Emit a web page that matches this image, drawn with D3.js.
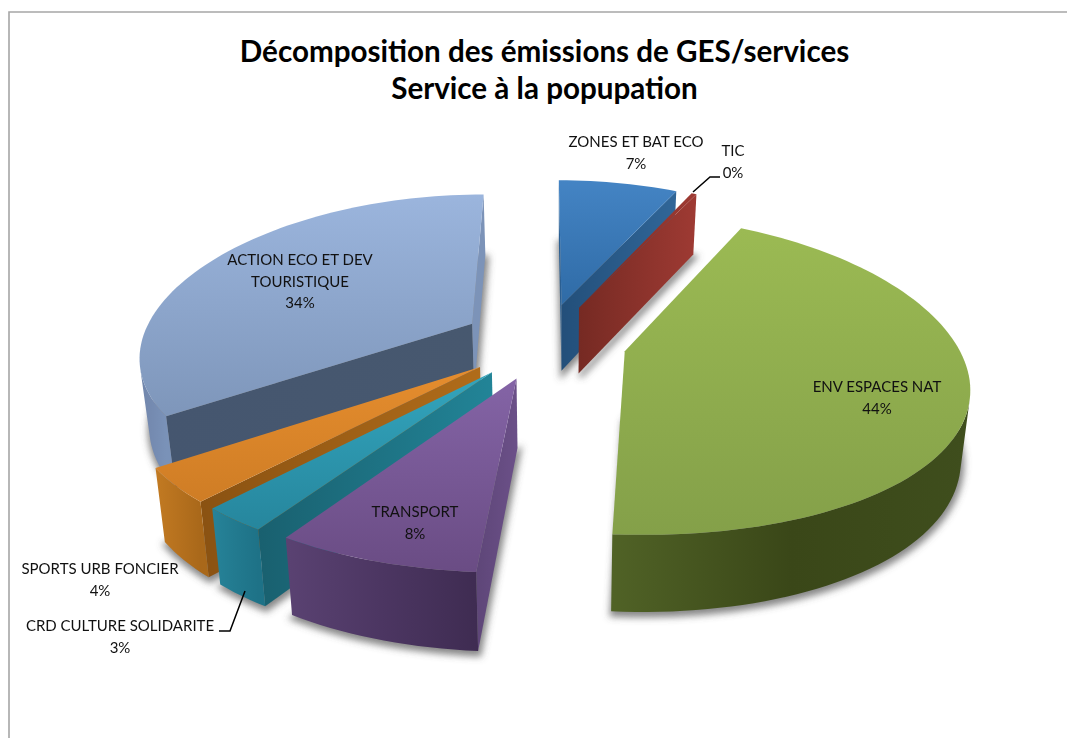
<!DOCTYPE html>
<html>
<head>
<meta charset="utf-8">
<script src="https://cdn.jsdelivr.net/npm/d3@7"></script>
<style>
  html, body { margin: 0; padding: 0; background: #fff; }
  svg { display: block; }
  text { font-family: Lato, "Open Sans", sans-serif; fill: #111; }
</style>
</head>
<body>
<svg id="chart" width="1067" height="738"></svg>
<script>
const categories = ['ZONES ET BAT ECO', 'TIC', 'ENV ESPACES NAT', 'TRANSPORT', 'CRD CULTURE SOLIDARITE', 'SPORTS URB FONCIER', 'ACTION ECO ET DEV TOURISTIQUE'];
const shares = [7.07, 0.3, 43.5, 7.77, 2.59, 3.59, 34.49];

const titleLines = ['Décomposition des émissions de GES/services', 'Service à la popupation'];

// colours per slice, same order as categories
const topLight = ['#4484c4', '#9e3a33', '#9bba53', '#8464a6', '#33a5bd', '#e58d2e', '#9bb5dd'];
const topDark = ['#2f6ba6', '#78291f', '#84a049', '#6a4c84', '#26869d', '#cf7d25', '#7e96ba'];
// radial walls: colour at the apex, colour at the rim
const startApex = ['#2b5f92', '#7c2a24', '#4a5a24', '#6b5088', '#228497', '#b06c1a', '#47586f'];
const startRim = ['#2b5f92', '#7c2a24', '#4a5a24', '#5e4678', '#19606f', '#8a5212', '#45566f'];
const endApex = ['#234f7a', '#762a23', '#4a5a24', '#5c4478', '#1f7688', '#a8691b', '#7c93b8'];
const endRim = ['#306698', '#9e3a33', '#4a5a24', '#5c4478', '#1f7688', '#a8691b', '#7c93b8'];
// outer wall, from the first to the last visible facet
const rimFrom = ['#3a70a6', '#7c2a24', '#3f4e1d', '#3f2c52', '#1e7287', '#a9681a', '#7a92b8'];
const rimMid = ['#32689b', '#7c2a24', '#3a4718', '#4c3662', '#227a8f', '#b6711e', '#758bb1'];
const rimTo = ['#2a5f90', '#7c2a24', '#506226', '#5a4272', '#268399', '#c27a22', '#7186ab'];

// label text blocks: centre x, first baseline
const labelPos = [[636, 147], [733, 156], [877, 392], [415, 517], [120, 631], [100, 574], [300, 265]];

const svg = d3.select('#chart');
const defs = svg.append('defs');

defs.append('filter').attr('id', 'soft')
    .attr('x', '-20%').attr('y', '-20%').attr('width', '140%').attr('height', '140%')
  .append('feGaussianBlur').attr('stdDeviation', 3.5);

// frame of the chart area
svg.append('path')
    .attr('d', 'M1067,12H9V738')
    .attr('fill', 'none')
    .attr('stroke', '#a6a6a6')
    .attr('stroke-width', 1.6);

const title = svg.append('text').attr('text-anchor', 'middle')
    .style('font-size', '29.6px').style('font-weight', 700);
title.selectAll('tspan').data(titleLines).join('tspan')
    .attr('x', 544.5)
    .attr('y', (d, i) => 62 + i * 37)
    .style('fill', '#000')
    .text(d => d);

// projection of the tilted pie
const originX = 544, originY = 341;
const radiusX = 331, radiusY = 153, perspectiveX = 0.193, perspectiveY = 0.148, explode = 0.25;
const baseX = d3.scaleLinear().domain([560, 1560]).range([560, 1537]);
const baseY = d3.scaleLinear().domain([192, 1192]).range([252, 1302]);

function project (x, y) {
    return [originX + x * radiusX / (1 - perspectiveX * y), originY + y * radiusY / (1 - perspectiveY * y)];
}

function toBase (p) {
    return [baseX(p[0]), baseY(p[1])];
}

const pie = d3.pie().sort(null).value(d => d);
const arcs = pie(shares);

function wedge (a) {
    const mid = (a.startAngle + a.endAngle) / 2;
    const dx = explode * Math.sin(mid), dy = -explode * Math.cos(mid);
    const n = Math.max(1, Math.ceil((a.endAngle - a.startAngle) / 0.03));
    const rim = d3.range(n + 1).map(i => {
        const t = a.startAngle + (a.endAngle - a.startAngle) * i / n;
        return project(dx + Math.sin(t), dy - Math.cos(t));
    });
    return { apex: project(dx, dy), rim: rim };
}

const line = d3.line().curve(d3.curveLinearClosed);

function quad (p, q) {
    return [p, q, toBase(q), toBase(p)];
}

function horizontalGradient (id, x1, x2, colours) {
    const grad = defs.append('linearGradient').attr('id', id)
        .attr('gradientUnits', 'userSpaceOnUse')
        .attr('x1', x1).attr('x2', x2).attr('y1', 0).attr('y2', 0);
    colours.forEach((c, k) => {
        grad.append('stop').attr('offset', k / (colours.length - 1)).attr('stop-color', c);
    });
    return 'url(#' + id + ')';
}

const wedges = arcs.map(wedge);
const drawOrder = [0, 1, 6, 2, 5, 4, 3];

// soft shadows under the base of each slice
const shadows = svg.append('g').attr('filter', 'url(#soft)');
drawOrder.forEach(i => {
    const w = wedges[i];
    shadows.append('path')
        .attr('d', line([w.apex].concat(w.rim).map(toBase)))
        .attr('fill', '#555')
        .attr('stroke', '#555')
        .attr('stroke-width', 5)
        .attr('transform', 'translate(1,3)')
        .attr('opacity', 0.7);
});

drawOrder.forEach(i => {
    const w = wedges[i];
    const g = svg.append('g').attr('class', 'slice');
    const last = w.rim[w.rim.length - 1];

    // only faces turned to the viewer
    const startPts = quad(w.apex, w.rim[0]);
    if (d3.polygonArea(startPts) > 0) {
        g.append('path').attr('d', line(startPts))
            .attr('fill', horizontalGradient('start' + i, w.apex[0], w.rim[0][0], [startApex[i], startRim[i]]));
    }
    const endPts = quad(last, w.apex);
    if (d3.polygonArea(endPts) > 0) {
        g.append('path').attr('d', line(endPts))
            .attr('fill', horizontalGradient('end' + i, w.apex[0], last[0], [endApex[i], endRim[i]]));
    }

    const facets = d3.pairs(w.rim).filter(p => d3.polygonArea(quad(p[0], p[1])) > 0);
    if (facets.length) {
        const front = [facets[0][0]].concat(facets.map(p => p[1]));
        const outline = front.concat(front.map(toBase).reverse());
        g.append('path').attr('d', line(outline))
            .attr('fill', horizontalGradient('rim' + i, front[0][0], front[front.length - 1][0], [rimFrom[i], rimMid[i], rimTo[i]]));
    }

    const ys = [w.apex].concat(w.rim).map(p => p[1]);
    const grad = defs.append('linearGradient').attr('id', 'top' + i)
        .attr('gradientUnits', 'userSpaceOnUse')
        .attr('x1', 0).attr('x2', 0)
        .attr('y1', d3.min(ys)).attr('y2', d3.max(ys));
    grad.append('stop').attr('offset', 0).attr('stop-color', topLight[i]);
    grad.append('stop').attr('offset', 1).attr('stop-color', topDark[i]);

    g.append('path')
        .attr('d', line([w.apex].concat(w.rim)))
        .attr('fill', 'url(#top' + i + ')');
});

// leader lines
const leaders = [
    [[693, 192], [710, 177], [720, 177]],
    [[245, 591], [230, 631], [219, 631]]
];
svg.selectAll('path.leader').data(leaders).join('path')
    .attr('class', 'leader')
    .attr('d', d3.line())
    .attr('fill', 'none')
    .attr('stroke', '#000')
    .attr('stroke-width', 1.5);

// data labels
const wrapped = categories.map(c => c === 'ACTION ECO ET DEV TOURISTIQUE' ? ['ACTION ECO ET DEV', 'TOURISTIQUE'] : [c]);
const labels = svg.selectAll('text.label').data(categories).join('text')
    .attr('class', 'label')
    .attr('text-anchor', 'middle')
    .style('font-size', '15px');
labels.each(function (d, i) {
    const rows = wrapped[i].concat(Math.round(shares[i]) + '%');
    d3.select(this).selectAll('tspan').data(rows).join('tspan')
        .attr('x', labelPos[i][0])
        .attr('y', (r, k) => labelPos[i][1] + k * 21.5)
        .text(r => r);
});
</script>
</body>
</html>
